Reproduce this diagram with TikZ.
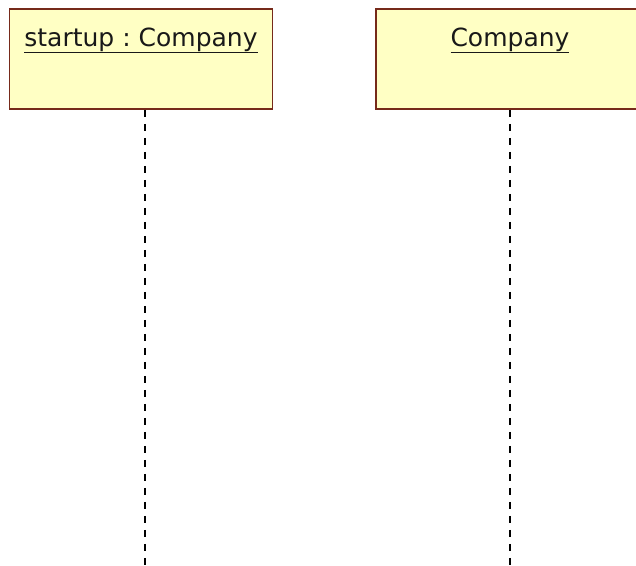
\documentclass[tikz,border=0pt]{standalone}
\usepackage{fontspec}
\setmainfont{DejaVu Sans}
\frenchspacing
\definecolor{objyellow}{RGB}{255,255,196}
\definecolor{objbrown}{RGB}{118,42,26}
\usetikzlibrary{positioning}

\begin{document}
\begin{tikzpicture}[x=1pt, y=-1pt,
    objbox/.style={draw=objbrown, fill=objyellow, line width=1.8pt, inner sep=0pt, minimum height=100pt, anchor=north},
    objname/.style={font=\fontsize{25}{29}\selectfont, text=black!90, inner sep=0pt, anchor=base},
    lifeline/.style={dash pattern=on 7pt off 7pt, line width=1.6pt}]
  \path[use as bounding box, clip] (0,0) rectangle (636,565);

  % Object startup
  \node[objbox, minimum width=263pt] (startup) at (141,8) {};
  \node[objname] (startupname) at ([yshift=-38pt]startup.north) {\underline{startup : Company}};
  \coordinate (startupend) at (145,565);
  \draw[lifeline] (startup.south -| startupend) -- (startupend);

  % Object Company
  \node[objbox, minimum width=268pt] (company) at (510,8) {};
  \node[objname] (companyname) at ([yshift=-38pt]company.north) {\underline{Company}};
  \coordinate (companyend) at (510,565);
  \draw[lifeline] (company.south -| companyend) -- (companyend);
\end{tikzpicture}
\end{document}
